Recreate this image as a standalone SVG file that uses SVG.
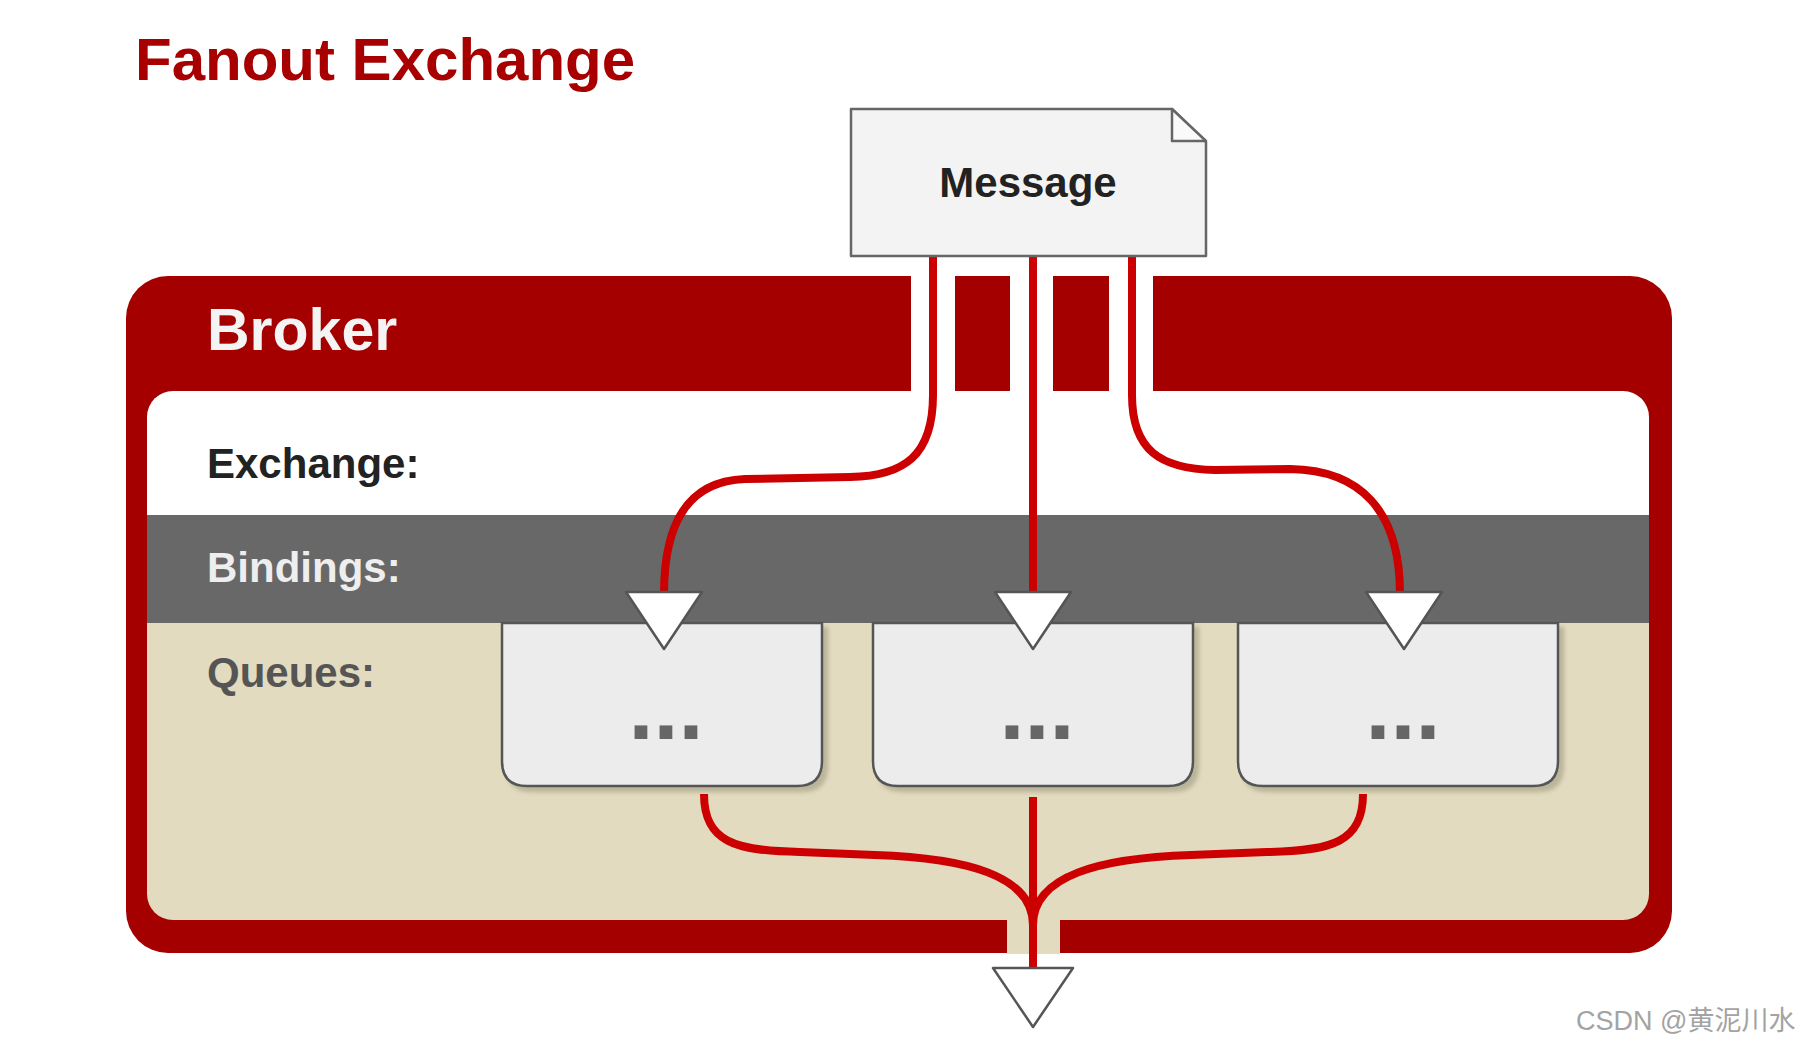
<svg xmlns="http://www.w3.org/2000/svg" width="1796" height="1057" viewBox="0 0 1796 1057">
<style>
.lbl{font-family:"Liberation Sans",Arial,sans-serif;font-weight:bold;font-size:42px}
.wire{fill:none;stroke:#cc0000;stroke-width:8;stroke-linecap:butt}
.tri{fill:#ffffff;stroke:#555555;stroke-width:2.5;stroke-linejoin:round}
.queue{fill:#ececec;stroke:#555555;stroke-width:2.5;filter:url(#sh)}
.dots{font-family:"Liberation Sans",Arial,sans-serif;font-weight:bold;font-size:90px;fill:#666666;text-anchor:middle}
</style>
<defs>
<clipPath id="innerClip"><rect x="147" y="391" width="1502" height="529" rx="26"/></clipPath>
<filter id="sh" x="-10%" y="-10%" width="130%" height="130%"><feDropShadow dx="5" dy="5" stdDeviation="2" flood-color="#8a8470" flood-opacity="0.45"/></filter>
</defs>
<rect width="1796" height="1057" fill="#ffffff"/>
<g id="title"><text x="135" y="80" font-family="Liberation Sans, Arial, sans-serif" font-weight="bold" font-size="60" fill="#a80000">Fanout Exchange</text></g>
<g id="broker">
<rect x="126" y="276" width="1546" height="677" rx="42" fill="#a50000"/>
<rect x="911" y="270" width="44" height="122" fill="#ffffff"/>
<rect x="1010" y="270" width="43" height="122" fill="#ffffff"/>
<rect x="1109" y="270" width="44" height="122" fill="#ffffff"/>
<g clip-path="url(#innerClip)">
<rect x="147" y="391" width="1502" height="124" fill="#ffffff"/>
<rect x="147" y="515" width="1502" height="108" fill="#686868"/>
<rect x="147" y="623" width="1502" height="297" fill="#e2dbbf"/>
</g>
<rect x="1007" y="918" width="53" height="36" fill="#e2dbbf"/>
<text x="207" y="350" font-family="Liberation Sans, Arial, sans-serif" font-weight="bold" font-size="59" fill="#f4f4f4">Broker</text>
</g>
<g id="exchange"><text class="lbl" x="207" y="478" fill="#222222">Exchange:</text></g>
<g id="bindings"><text class="lbl" x="207" y="582" fill="#eeeeee">Bindings:</text></g>
<g id="queues-label"><text class="lbl" x="207" y="687" fill="#555555">Queues:</text></g>
<g id="queue1"><path class="queue" d="M502,623 V761 Q502,786 527,786 H797 Q822,786 822,761 V623 Z"/><text class="dots" x="666" y="739">...</text></g>
<g id="queue2"><path class="queue" d="M873,623 V761 Q873,786 898,786 H1168 Q1193,786 1193,761 V623 Z"/><text class="dots" x="1037" y="739">...</text></g>
<g id="queue3"><path class="queue" d="M1238,623 V761 Q1238,786 1263,786 H1533 Q1558,786 1558,761 V623 Z"/><text class="dots" x="1403" y="739">...</text></g>
<g id="connectors">
<path class="wire" d="M933,256 V395 C933,455 905,476 850,477 L745,479 C690,481 664,520 664,594"/>
<path class="wire" d="M1033,256 V594"/>
<path class="wire" d="M1132,256 V395 C1132,450 1160,469 1215,470 L1290,469 C1360,470 1400,510 1400,594"/>
<path class="wire" d="M704,794 C704,842 735,851 800,852 L875,855 C965,858 1033,875 1033,925 V968"/>
<path class="wire" d="M1363,794 C1363,842 1332,851 1267,852 L1191,855 C1101,858 1033,875 1033,925 V968"/>
<path class="wire" d="M1033,797 V968"/>
<polygon class="tri" points="626,592 702,592 664,649"/>
<polygon class="tri" points="995,592 1071,592 1033,649"/>
<polygon class="tri" points="1366,592 1442,592 1404,649"/>
<polygon class="tri" points="993,968 1073,968 1033,1027"/>
</g>
<g id="message">
<path d="M851,109 H1172 L1206,142 V256 H851 Z" fill="#f3f3f3" stroke="#666666" stroke-width="2.5" stroke-linejoin="round"/>
<path d="M1172,109 V141 H1206 Z" fill="#fafafa" stroke="#666666" stroke-width="2.5" stroke-linejoin="round"/>
<text x="1028" y="197" text-anchor="middle" font-family="Liberation Sans, Arial, sans-serif" font-weight="bold" font-size="42" fill="#222222">Message</text>
</g>
<g id="watermark"><text x="1576" y="1030" font-family="Liberation Sans, Noto Sans CJK SC, sans-serif" font-size="27" fill="#a3a3a3">CSDN @黄泥川水</text></g>
</svg>
